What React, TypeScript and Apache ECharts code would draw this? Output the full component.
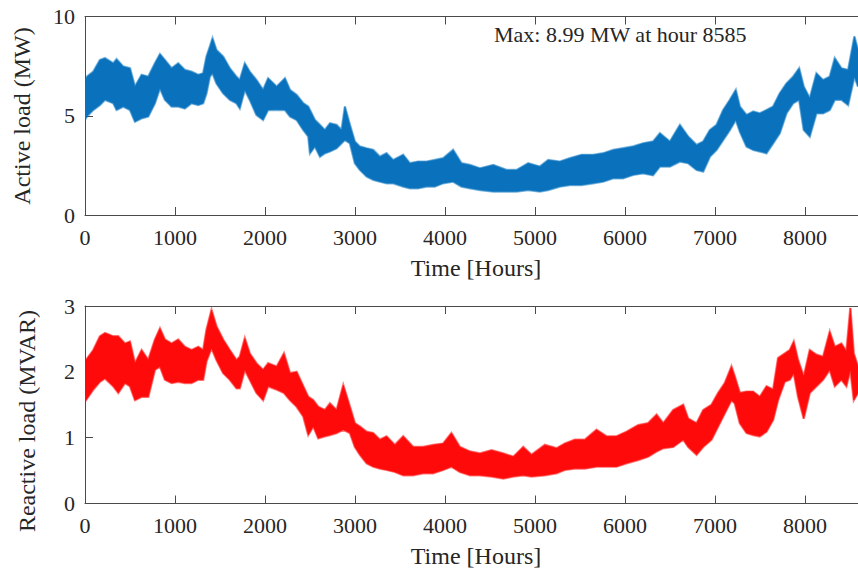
import React, { useEffect, useRef } from "react";
import * as echarts from "echarts";

// Active load envelope: hour, upper edge, lower edge (MW)
const activeHours = [0, 20, 92, 166, 222, 314, 351, 425, 500, 555, 629, 703, 777, 833, 888, 962, 1036, 1110, 1184, 1258, 1313, 1350, 1387, 1417, 1461, 1535, 1609, 1683, 1720, 1776, 1831, 1905, 1979, 2035, 2130, 2222, 2278, 2352, 2426, 2481, 2500, 2555, 2611, 2666, 2722, 2796, 2851, 2888, 2944, 2999, 3055, 3129, 3203, 3277, 3351, 3425, 3536, 3610, 3702, 3795, 3887, 3980, 4091, 4183, 4278, 4389, 4537, 4685, 4796, 4925, 5055, 5147, 5277, 5388, 5517, 5647, 5758, 5869, 5980, 6091, 6202, 6313, 6389, 6500, 6611, 6703, 6796, 6870, 6944, 7018, 7092, 7166, 7232, 7277, 7351, 7425, 7499, 7573, 7647, 7721, 7795, 7869, 7936, 7987, 8054, 8128, 8202, 8276, 8332, 8406, 8480, 8550, 8590];
const activeHigh = [6.6, 6.97, 7.22, 7.81, 7.9, 7.64, 7.85, 7.48, 7.39, 6.47, 7.06, 6.97, 7.64, 8.11, 7.81, 7.39, 7.64, 7.31, 7.22, 7.06, 7.14, 7.98, 8.48, 8.9, 8.31, 7.98, 7.39, 6.97, 6.8, 7.64, 7.22, 6.8, 6.3, 6.89, 6.47, 6.89, 6.3, 6.05, 5.63, 5.46, 5.29, 4.79, 4.54, 4.28, 4.62, 4.54, 4.28, 5.46, 4.54, 3.7, 3.45, 3.36, 3.28, 2.94, 3.11, 2.77, 3.03, 2.61, 2.69, 2.69, 2.77, 2.86, 3.28, 2.61, 2.52, 2.35, 2.52, 2.27, 2.27, 2.61, 2.44, 2.77, 2.69, 2.86, 3.03, 3.03, 3.11, 3.28, 3.36, 3.45, 3.61, 3.7, 4.12, 3.7, 4.54, 3.95, 3.53, 3.7, 4.28, 4.54, 5.29, 5.8, 6.3, 5.46, 5.04, 5.21, 5.12, 5.29, 5.46, 6.13, 6.63, 6.97, 7.39, 6.47, 5.88, 7.14, 6.8, 6.97, 7.9, 7.39, 7.31, 8.99, 8.31];
const activeLow = [4.8, 4.96, 5.29, 5.54, 5.8, 5.63, 5.29, 5.46, 5.29, 4.7, 4.87, 4.96, 5.63, 6.38, 5.8, 5.46, 5.46, 5.37, 5.63, 5.54, 5.63, 6.13, 6.97, 7.14, 6.63, 6.13, 5.8, 5.63, 5.37, 6.3, 5.8, 5.04, 4.79, 5.29, 5.3, 5.29, 4.96, 4.79, 4.28, 3.95, 3.11, 3.45, 2.94, 3.11, 3.2, 3.36, 3.61, 3.78, 3.61, 2.61, 2.27, 1.94, 1.77, 1.68, 1.6, 1.6, 1.43, 1.35, 1.35, 1.43, 1.43, 1.6, 1.68, 1.43, 1.35, 1.26, 1.18, 1.18, 1.18, 1.26, 1.18, 1.26, 1.43, 1.51, 1.51, 1.6, 1.68, 1.85, 1.85, 2.02, 2.1, 2.0, 2.44, 2.44, 2.69, 2.61, 2.27, 2.19, 2.94, 3.28, 3.78, 4.28, 4.79, 4.2, 3.45, 3.28, 3.2, 3.11, 3.61, 4.12, 5.12, 5.63, 5.8, 4.28, 3.95, 5.12, 5.12, 5.29, 5.8, 5.8, 5.54, 6.97, 6.47];

// Reactive load envelope: hour, upper edge, lower edge (MVAR)
const reactiveHours = [0, 11, 92, 166, 222, 314, 370, 444, 500, 555, 629, 703, 777, 833, 888, 962, 1036, 1110, 1184, 1258, 1313, 1350, 1406, 1461, 1535, 1609, 1683, 1720, 1776, 1831, 1905, 1979, 2035, 2130, 2211, 2278, 2352, 2426, 2481, 2537, 2592, 2666, 2722, 2796, 2870, 2944, 2999, 3055, 3129, 3203, 3277, 3351, 3443, 3536, 3647, 3758, 3869, 3980, 4072, 4165, 4278, 4389, 4518, 4648, 4759, 4870, 4962, 5110, 5240, 5332, 5443, 5554, 5684, 5795, 5906, 6017, 6146, 6257, 6352, 6426, 6537, 6648, 6703, 6796, 6870, 6962, 7036, 7110, 7184, 7221, 7277, 7351, 7425, 7499, 7573, 7647, 7702, 7776, 7832, 7876, 7924, 7987, 8054, 8128, 8202, 8276, 8332, 8406, 8461, 8505, 8543, 8590];
const reactiveHigh = [2.1, 2.18, 2.33, 2.54, 2.59, 2.54, 2.54, 2.43, 2.46, 2.13, 2.33, 2.18, 2.49, 2.66, 2.49, 2.43, 2.49, 2.38, 2.33, 2.38, 2.33, 2.64, 2.94, 2.69, 2.49, 2.33, 2.18, 2.23, 2.51, 2.28, 2.13, 2.03, 2.13, 2.08, 2.28, 1.98, 2.0, 1.78, 1.62, 1.57, 1.47, 1.42, 1.52, 1.42, 1.8, 1.47, 1.22, 1.17, 1.09, 1.07, 0.97, 1.02, 0.89, 1.02, 0.86, 0.86, 0.89, 0.91, 1.07, 0.86, 0.79, 0.76, 0.81, 0.76, 0.71, 0.86, 0.74, 0.89, 0.84, 0.91, 0.97, 0.97, 1.12, 1.02, 1.02, 1.09, 1.19, 1.22, 1.35, 1.22, 1.42, 1.5, 1.29, 1.22, 1.42, 1.5, 1.68, 1.83, 2.08, 1.93, 1.68, 1.7, 1.7, 1.62, 1.78, 1.73, 2.21, 2.28, 2.33, 2.46, 2.18, 1.93, 2.33, 2.26, 2.23, 2.61, 2.38, 2.43, 2.31, 2.97, 2.28, 2.08];
const reactiveLow = [1.55, 1.57, 1.73, 1.85, 1.9, 1.78, 1.68, 1.83, 1.78, 1.57, 1.62, 1.62, 2.03, 2.08, 1.88, 1.83, 1.85, 1.83, 1.83, 1.88, 1.88, 2.16, 2.36, 2.18, 1.98, 1.88, 1.75, 1.75, 2.03, 1.88, 1.68, 1.57, 1.78, 1.73, 1.68, 1.57, 1.47, 1.32, 1.04, 1.17, 0.99, 1.02, 1.04, 1.07, 1.12, 1.07, 0.86, 0.74, 0.61, 0.56, 0.53, 0.51, 0.48, 0.43, 0.43, 0.46, 0.46, 0.51, 0.56, 0.48, 0.43, 0.43, 0.41, 0.38, 0.41, 0.43, 0.41, 0.43, 0.46, 0.51, 0.53, 0.53, 0.56, 0.56, 0.56, 0.61, 0.66, 0.71, 0.79, 0.84, 0.86, 0.97, 0.86, 0.74, 0.86, 0.97, 1.17, 1.37, 1.57, 1.52, 1.22, 1.07, 1.04, 1.02, 1.09, 1.27, 1.57, 1.85, 1.88, 1.98, 1.62, 1.29, 1.68, 1.78, 1.88, 2.03, 1.78, 1.88, 1.78, 2.03, 1.57, 1.68];

const xTicks = [0, 1000, 2000, 3000, 4000, 5000, 6000, 7000, 8000];
const activeTicks = [0, 5, 10];
const reactiveTicks = [0, 1, 2, 3];
const xMax = 8590;
const annotation = "Max: 8.99 MW at hour 8585";

const FONT = '"Liberation Serif", "Times New Roman", serif';
const AX = "#262626";
const LINE = "#4a4a4a";

function band(idx: number, hours: number[], hi: number[], lo: number[], fill: string, edge: string) {
  return {
    type: "custom",
    xAxisIndex: idx,
    yAxisIndex: idx,
    clip: true,
    data: [[hours[0], lo[0]]],
    renderItem: (_p: any, api: any) => {
      const top = hours.map((h, i) => api.coord([h, hi[i]]));
      const bot = hours.map((h, i) => api.coord([h, lo[i]]));
      return {
        type: "group",
        children: [
          { type: "polyline", shape: { points: top }, style: { stroke: edge, lineWidth: 2.4, fill: null } },
          { type: "polyline", shape: { points: bot }, style: { stroke: edge, lineWidth: 2.4, fill: null } },
          {
            type: "polygon",
            shape: { points: top.concat(bot.slice().reverse()) },
            style: { fill, stroke: fill, lineWidth: 0.6 },
          },
        ],
      };
    },
  };
}

function xAx(gridIndex: number, pos: "bottom" | "top") {
  const bottom = pos === "bottom";
  return {
    type: "value",
    gridIndex,
    position: pos,
    min: 0,
    max: xMax,
    interval: 1000,
    axisLine: { show: true, lineStyle: { color: LINE, width: 1 } },
    axisTick: { show: true, inside: true, length: 8, lineStyle: { color: LINE } },
    axisLabel: {
      show: bottom,
      showMaxLabel: false,
      margin: 11,
      color: AX,
      fontFamily: FONT,
      fontSize: 22,
      formatter: (v: number) => (xTicks.includes(v) ? String(v) : ""),
    },
    splitLine: { show: false },
  };
}

function yAx(gridIndex: number, max: number, interval: number, ticks: number[]) {
  return {
    type: "value",
    gridIndex,
    min: 0,
    max,
    interval,
    axisLine: { show: true, lineStyle: { color: LINE, width: 1 } },
    axisTick: { show: true, inside: true, length: 8, lineStyle: { color: LINE } },
    axisLabel: {
      margin: 10,
      color: AX,
      fontFamily: FONT,
      fontSize: 22,
      formatter: (v: number) => (ticks.includes(v) ? String(v) : ""),
    },
    splitLine: { show: false },
  };
}

export default function App() {
  const ref = useRef<HTMLDivElement>(null);
  useEffect(() => {
    if (!ref.current) return;
    const chart = echarts.init(ref.current, null, { renderer: "svg" });
    const labelStyle = { fill: AX, font: `24px ${FONT}` };
    chart.setOption({
      animation: false,
      backgroundColor: "#ffffff",
      grid: [
        { left: 85, top: 16.5, width: 773, height: 198.5 },
        { left: 85, top: 306, width: 773, height: 197.5 },
      ],
      xAxis: [xAx(0, "bottom"), xAx(1, "bottom"), xAx(0, "top"), xAx(1, "top")],
      yAxis: [yAx(0, 10, 5, activeTicks), yAx(1, 3, 1, reactiveTicks)],
      series: [
        band(0, activeHours, activeHigh, activeLow, "#0a72bd", "rgba(0,114,189,0.5)"),
        band(1, reactiveHours, reactiveHigh, reactiveLow, "#ff0a0a", "rgba(255,0,0,0.5)"),
      ],
      graphic: [
        { type: "text", left: 494, top: 23, style: { text: annotation, fill: AX, font: `22px ${FONT}` } },
        { type: "text", x: 476, y: 268, style: { ...labelStyle, text: "Time [Hours]", align: "center", verticalAlign: "middle" } },
        { type: "text", x: 476, y: 556, style: { ...labelStyle, text: "Time [Hours]", align: "center", verticalAlign: "middle" } },
        { type: "text", x: 22, y: 116, rotation: Math.PI / 2, style: { ...labelStyle, text: "Active load (MW)", align: "center", verticalAlign: "middle" } },
        { type: "text", x: 27, y: 421, rotation: Math.PI / 2, style: { ...labelStyle, text: "Reactive load (MVAR)", align: "center", verticalAlign: "middle" } },
      ],
    });
    return () => chart.dispose();
  }, []);
  return <div ref={ref} style={{ position: "absolute", left: 0, top: 0, width: 858, height: 572 }} />;
}
